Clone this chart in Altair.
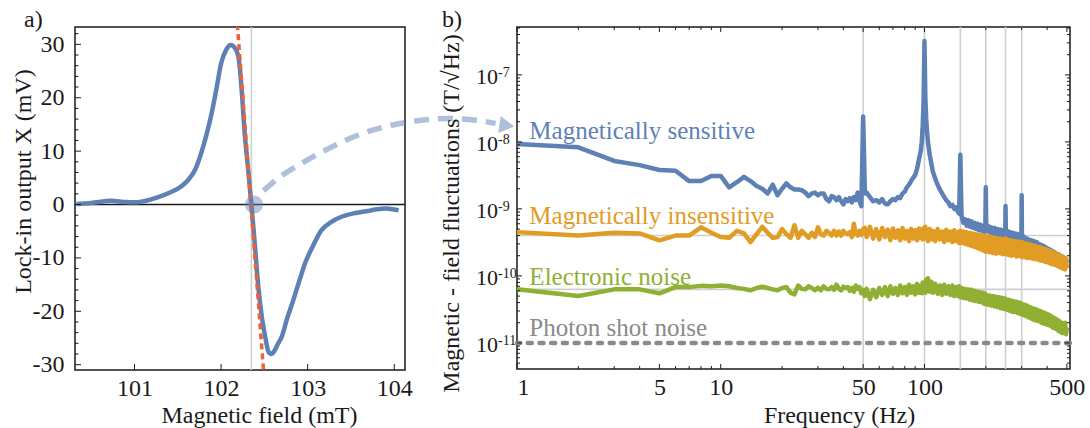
import altair as alt
import pandas as pd

FONT = "Liberation Serif"
INK = "#1a1a1a"
BLUE = "#5E81B5"
ORANGE = "#E19C24"
GREEN = "#8FB032"
RED = "#EB6235"
SHOT = "#8a8a8a"
GUIDE = "#cfcfcf"

# ---------------- panel a: lock-in output across the resonance ----------------
field_mT = [100.33, 100.5, 100.73, 100.9, 101.0, 101.2, 101.39, 101.55, 101.62, 101.7,
            101.77, 101.83, 101.89, 101.95, 102.0, 102.06, 102.11, 102.16, 102.2, 102.24,
            102.27, 102.31, 102.35, 102.39, 102.43, 102.47, 102.51, 102.545, 102.58, 102.62,
            102.66, 102.70, 102.76, 102.82, 102.9, 102.97, 103.06, 103.16, 103.27, 103.39,
            103.55, 103.7, 103.8, 103.9, 104.0, 104.05]
lockin_mV = [0.1, 0.3, 0.7, 0.45, 0.4, 1.0, 2.1, 3.5, 4.6, 6.5,
             9.6, 13.0, 17.0, 22.0, 26.4, 29.0, 29.9, 29.3, 27.7, 21.0,
             13.9, 7.0, 0.0, -7.5, -15.4, -21.0, -24.8, -27.5, -28.0, -27.3,
             -26.0, -24.8, -21.5, -18.6, -14.5, -11.0, -7.8, -4.8, -3.3, -2.3,
             -1.6, -1.2, -0.9, -0.75, -0.95, -1.1]

# linear fit through the zero crossing
fit_field_mT = [102.17, 102.52]
fit_mV = [37.5, -37.5]
resonance_mT = [102.35]
work_point_mT = [102.38]
work_point_mV = [0.0]

# dashed pointer from the working point towards panel b
arrow_field_mT = [102.49, 102.70, 102.93, 103.28, 103.63, 103.98, 104.32, 104.63, 104.94, 105.17]
arrow_mV = [2.6, 5.4, 7.7, 10.8, 13.3, 14.9, 15.8, 16.1, 15.8, 15.2]
arrow_tip_mT = [105.30]
arrow_tip_mV = [14.8]

a_x_ticks = [101, 102, 103, 104]
a_y_ticks = [-30, -20, -10, 0, 10, 20, 30]
a_y_minor = [v for v in range(-30, 33, 2) if v % 10]

# ---------------- panel b: noise spectra ----------------
freq_hz = [
    1, 2, 3, 4, 5, 6, 7, 8, 9, 10,
    11, 12, 13, 14, 15, 16, 17, 18, 19, 20,
    21, 22, 23, 24, 25, 26, 27, 28, 29, 30,
    31, 32, 33, 34, 35, 36, 37, 38, 39, 40,
    41, 42, 43, 44, 45, 46, 47, 48, 49, 50,
    51, 52, 54, 56, 58, 60, 62, 64, 66, 68,
    70, 72, 74, 76, 78, 80, 82, 84, 86, 88,
    90, 92, 94, 96, 97, 98, 99, 100, 101, 102,
    103, 104, 106, 108, 110, 113, 116, 119, 122, 125,
    128, 131, 134, 137, 140, 143, 146, 148, 150, 152,
    155, 158, 161, 164, 167, 170, 173, 176, 179, 182,
    185, 188, 191, 194, 197, 199, 200, 201, 205, 209,
    213, 217, 221, 225, 229, 233, 237, 241, 245, 249,
    250, 251, 255, 259, 263, 267, 271, 275, 279, 283,
    287, 291, 295, 299, 300, 301, 305, 310, 315, 320,
    325, 330, 335, 340, 345, 350, 355, 360, 365, 370,
    375, 380, 385, 390, 395, 400, 405, 410, 415, 420,
    425, 430, 435, 440, 445, 450, 455, 460, 465, 470,
    475, 480, 485, 490, 495, 500]

# amplitude spectral densities in pT/sqrt(Hz)
asd_sensitive_pT = [
    9300, 8300, 5200, 4500, 3800, 3700, 2600, 2600, 3100, 3100,
    2100, 2500, 3000, 2600, 2200, 2000, 1700, 2300, 1600, 2000,
    2400, 2100, 1950, 1950, 1900, 1750, 1550, 1700, 1750, 1600,
    1700, 1700, 1400, 1300, 1550, 1500, 1350, 1500, 1300, 1170,
    1400, 1300, 1450, 1250, 1500, 1350, 1750, 1300, 1100, 24000,
    1700, 1750, 1500, 1300, 1350, 1250, 1400, 1200, 1170, 1300,
    1400, 1350, 1500, 1450, 1700, 1800, 2100, 2300, 2600, 2900,
    3200, 4000, 5500, 7500, 10000, 17000, 40000, 320000, 45000, 22000,
    14000, 10000, 6500, 4800, 3600, 2800, 2300, 1950, 1700, 1500,
    1350, 1250, 1100, 1150, 1000, 1050, 900, 850, 6400, 800,
    620, 700, 560, 680, 540, 650, 520, 620, 500, 600,
    480, 580, 470, 560, 450, 540, 2100, 470, 560, 440,
    530, 420, 520, 410, 500, 400, 490, 390, 480, 380,
    1100, 400, 470, 370, 450, 360, 440, 350, 430, 340,
    420, 330, 400, 320, 1600, 330, 390, 310, 370, 300,
    350, 280, 340, 270, 330, 260, 320, 250, 300, 240,
    290, 230, 280, 220, 265, 210, 255, 200, 245, 195,
    235, 185, 225, 180, 215, 170, 210, 165, 200, 160,
    195, 155, 185, 150, 180, 160]

asd_insensitive_pT = [
    450, 400, 440, 430, 340, 400, 400, 530, 440, 380,
    370, 470, 430, 320, 420, 540, 440, 370, 380, 500,
    420, 370, 570, 370, 470, 420, 370, 440, 380, 530,
    420, 400, 470, 440, 400, 470, 400, 460, 400, 470,
    430, 420, 450, 380, 600, 420, 400, 470, 410, 500,
    520, 380, 540, 360, 500, 350, 520, 380, 490, 340,
    510, 370, 480, 340, 520, 360, 470, 330, 500, 360,
    480, 340, 510, 370, 470, 350, 520, 400, 540, 360,
    480, 330, 500, 350, 470, 330, 500, 350, 460, 320,
    490, 340, 460, 320, 480, 330, 450, 310, 470, 310,
    460, 300, 450, 290, 440, 280, 430, 270, 420, 260,
    410, 250, 400, 240, 390, 230, 400, 230, 380, 225,
    385, 220, 370, 215, 365, 220, 360, 210, 355, 215,
    360, 210, 345, 205, 340, 200, 335, 205, 330, 195,
    325, 200, 320, 195, 320, 190, 310, 190, 305, 185,
    300, 185, 290, 180, 285, 178, 275, 175, 270, 170,
    262, 168, 255, 162, 250, 160, 242, 155, 235, 150,
    228, 148, 220, 145, 212, 140, 205, 136, 198, 132,
    192, 128, 188, 125, 182, 130]

asd_electronic_pT = [
    63, 50, 63, 63, 55, 68, 68, 71, 70, 72,
    70, 66, 64, 61, 66, 69, 66, 63, 61, 66,
    68, 56, 53, 72, 64, 63, 70, 66, 61, 67,
    61, 70, 64, 63, 68, 62, 74, 64, 61, 69,
    66, 68, 60, 66, 58, 72, 64, 68, 55, 62,
    50, 64, 45, 62, 48, 66, 52, 68, 50, 70,
    54, 66, 52, 72, 55, 68, 52, 74, 56, 70,
    53, 76, 56, 72, 55, 80, 58, 74, 56, 88,
    60, 92, 58, 82, 56, 76, 54, 72, 52, 74,
    54, 70, 52, 72, 50, 68, 50, 70, 48, 66,
    47, 64, 46, 63, 44, 62, 43, 60, 42, 58,
    41, 57, 40, 56, 38, 54, 39, 52, 37, 51,
    36, 50, 35, 49, 34, 48, 33, 47, 32, 46,
    33, 45, 31, 44, 30, 43, 29, 42, 29, 41,
    28, 40, 27, 39, 27, 38, 26, 37, 25, 36,
    24, 34, 23, 33, 22, 32, 21.5, 31, 21, 30,
    20, 29, 19.5, 28, 19, 27, 18.5, 26, 18, 25,
    17, 24, 16.5, 23, 16, 22, 15, 21, 14.5, 20,
    14, 19, 14, 20, 13.5, 17]

shot_noise_pT = [10.0]
mains_harmonics_hz = [50, 100, 150, 200, 250, 300]
level_guides_pT = [400, 63]

curve_names = ["Magnetically sensitive", "Magnetically insensitive",
               "Electronic noise", "Photon shot noise"]
curve_label_hz = [1.15, 1.15, 1.15, 1.15]
curve_label_pT = [11000, 600, 74, 12.6]
curve_colors = [BLUE, ORANGE, GREEN, SHOT]

b_x_ticks = [1, 5, 10, 50, 100, 500]
decade_exponents = [-11, -10, -9, -8, -7]

PT = 1e-12  # pT -> T

# ---------------- geometry / scales ----------------
A_W, A_H = 330, 343
B_W, B_H = 553, 342
TICK, MINOR = 6, 3.5
FS = 24

A_XS = alt.Scale(domain=[100.313, 104.124], nice=False, zero=False)
A_YS = alt.Scale(domain=[-31.0, 33.25], nice=False, zero=False)
B_XS = alt.Scale(type="log", domain=[1, 518], nice=False)
B_YS = alt.Scale(type="log", domain=[4.08e-12, 5.18e-7], nice=False)

A_XAXIS = alt.Axis(values=a_x_ticks, title="Magnetic field (mT)", labelPadding=6,
                   titleX=184, titleY=52, titleBaseline="alphabetic")
A_YAXIS = alt.Axis(values=a_y_ticks, title="Lock-in output X (mV)", labelPadding=11,
                   labelExpr="replace(datum.label, '\u2212', '-')",
                   titleX=-45, titleY=154, titleBaseline="alphabetic")
B_XAXIS = alt.Axis(values=b_x_ticks, title="Frequency (Hz)", labelPadding=6,
                   labelExpr="format(datum.value, 'd')",
                   titleX=322, titleY=53, titleBaseline="alphabetic")
B_YAXIS = alt.Axis(values=[10.0 ** e for e in decade_exponents], labels=False,
                   title="Magnetic - field fluctuations (T/\u221aHz)",
                   titleX=-59, titleY=186, titleBaseline="alphabetic")


def ax(field="B"):
    return alt.X(f"{field}:Q", scale=A_XS, axis=A_XAXIS)


def ay(field="X"):
    return alt.Y(f"{field}:Q", scale=A_YS, axis=A_YAXIS)


def bx():
    return alt.X("f:Q", scale=B_XS, axis=B_XAXIS)


def by():
    return alt.Y("asd:Q", scale=B_YS, axis=B_YAXIS)


# ---------------- panel a layers ----------------
resonance_rule = alt.Chart(pd.DataFrame({"B": resonance_mT})).mark_rule(
    color=GUIDE, strokeWidth=1.6).encode(x=ax())
zero_rule = alt.Chart(pd.DataFrame({"X": [0.0]})).mark_rule(
    color=INK, strokeWidth=1.5).encode(y=ay())
signal = alt.Chart(pd.DataFrame({"B": field_mT, "X": lockin_mV})).mark_line(
    color=BLUE, strokeWidth=4.5, interpolate="monotone", strokeJoin="round").encode(x=ax(), y=ay())
fit = alt.Chart(pd.DataFrame({"B": fit_field_mT, "X": fit_mV})).mark_line(
    color=RED, strokeWidth=3.5, strokeDash=[6, 4], clip=True).encode(x=ax(), y=ay())
work_point = alt.Chart(pd.DataFrame({"B": work_point_mT, "X": work_point_mV})).mark_circle(
    color=BLUE, opacity=0.45, size=330).encode(x=ax(), y=ay())
pointer = alt.Chart(pd.DataFrame({"B": arrow_field_mT, "X": arrow_mV})).mark_line(
    color=BLUE, opacity=0.5, strokeWidth=5.5, strokeDash=[15, 9], interpolate="monotone"
).encode(x=ax(), y=ay())
pointer_head = alt.Chart(pd.DataFrame({"B": arrow_tip_mT, "X": arrow_tip_mV})).mark_point(
    shape="triangle-right", filled=True, color=BLUE, opacity=0.5, size=300, angle=8
).encode(x=ax(), y=ay())

a_ticks_left = alt.Chart(pd.DataFrame({"X": a_y_ticks})).mark_rule(color=INK, strokeWidth=1).encode(
    y=ay(), x=alt.value(0), x2=alt.value(TICK))
a_ticks_left_minor = alt.Chart(pd.DataFrame({"X": a_y_minor})).mark_rule(color=INK, strokeWidth=1).encode(
    y=ay(), x=alt.value(0), x2=alt.value(MINOR))
a_ticks_bottom = alt.Chart(pd.DataFrame({"B": a_x_ticks})).mark_rule(color=INK, strokeWidth=1).encode(
    x=ax(), y=alt.value(A_H), y2=alt.value(A_H - TICK))

panel_a = alt.layer(
    resonance_rule, zero_rule, signal, fit, work_point, pointer, pointer_head,
    a_ticks_left, a_ticks_left_minor, a_ticks_bottom,
).properties(
    width=A_W, height=A_H,
    title=alt.TitleParams("a)", anchor="start", frame="group", font=FONT, fontSize=FS,
                          fontWeight="normal", color=INK, dx=-51, dy=25, offset=0,
                          baseline="alphabetic"),
)

# ---------------- panel b layers ----------------
harmonics = alt.Chart(pd.DataFrame({"f": mains_harmonics_hz})).mark_rule(
    color=GUIDE, strokeWidth=1.6).encode(x=bx())
levels = alt.Chart(pd.DataFrame({"asd": [v * PT for v in level_guides_pT]})).mark_rule(
    color=GUIDE, strokeWidth=1.6).encode(y=by())


def spectrum(values, color):
    df = pd.DataFrame({"f": freq_hz, "asd": [v * PT for v in values]})
    return alt.Chart(df).mark_line(color=color, strokeWidth=4.5, strokeJoin="round").encode(x=bx(), y=by())


shot = alt.Chart(pd.DataFrame({"asd": [v * PT for v in shot_noise_pT]})).mark_rule(
    color=SHOT, strokeWidth=4.5, strokeDash=[4, 7.7], strokeCap="round").encode(y=by())

labels_df = pd.DataFrame({"f": curve_label_hz, "asd": [v * PT for v in curve_label_pT],
                          "name": curve_names, "c": curve_colors})
curve_labels = alt.Chart(labels_df).mark_text(
    align="left", baseline="alphabetic", font=FONT, fontSize=25).encode(
    x=bx(), y=by(), text="name:N", color=alt.Color("c:N", scale=None))

decades_df = pd.DataFrame({"asd": [10.0 ** e for e in decade_exponents],
                           "base": ["10"] * len(decade_exponents),
                           "exp": [str(e) for e in decade_exponents]})
decade_base = alt.Chart(decades_df).mark_text(
    align="right", baseline="alphabetic", font=FONT, fontSize=22, color=INK, dy=9).encode(
    y=by(), x=alt.value(-19), text="base:N")
decade_exp = alt.Chart(decades_df).mark_text(
    align="left", baseline="alphabetic", font=FONT, fontSize=14, color=INK, dy=2).encode(
    y=by(), x=alt.value(-19), text="exp:N")

b_y_major = [10.0 ** e for e in decade_exponents]
b_y_minor = [k * 10.0 ** e for e in range(-12, -6) for k in range(2, 10)
             if 4.08e-12 <= k * 10.0 ** e <= 5.18e-7]
b_x_minor = [k * 10 ** e for e in range(0, 3) for k in range(1, 10)
             if k * 10 ** e <= 500 and k * 10 ** e not in b_x_ticks]


def y_edge_ticks(values, length):
    df = pd.DataFrame({"asd": values})
    left = alt.Chart(df).mark_rule(color=INK, strokeWidth=1).encode(
        y=by(), x=alt.value(0), x2=alt.value(length))
    right = alt.Chart(df).mark_rule(color=INK, strokeWidth=1).encode(
        y=by(), x=alt.value(B_W), x2=alt.value(B_W - length))
    return [left, right]


def x_edge_ticks(values, length):
    df = pd.DataFrame({"f": values})
    bottom = alt.Chart(df).mark_rule(color=INK, strokeWidth=1).encode(
        x=bx(), y=alt.value(B_H), y2=alt.value(B_H - length))
    top = alt.Chart(df).mark_rule(color=INK, strokeWidth=1).encode(
        x=bx(), y=alt.value(0), y2=alt.value(length))
    return [bottom, top]


panel_b = alt.layer(
    harmonics, levels,
    spectrum(asd_sensitive_pT, BLUE),
    spectrum(asd_insensitive_pT, ORANGE),
    spectrum(asd_electronic_pT, GREEN),
    shot, curve_labels, decade_base, decade_exp,
    *y_edge_ticks(b_y_major, TICK - 1), *y_edge_ticks(b_y_minor, MINOR - 0.5),
    *x_edge_ticks(b_x_ticks, TICK - 1), *x_edge_ticks(b_x_minor, MINOR - 0.5),
).properties(
    width=B_W, height=B_H,
    title=alt.TitleParams("b)", anchor="start", frame="group", font=FONT, fontSize=FS,
                          fontWeight="normal", color=INK, dx=-75, dy=25, offset=0,
                          baseline="alphabetic"),
)

chart = alt.hconcat(panel_a, panel_b, spacing=112, bounds="flush").properties(
    padding={"left": 10, "top": 7, "right": 0, "bottom": 0},
    background="white",
).configure(font=FONT).configure_view(
    stroke=INK, strokeWidth=1.5
).configure_axis(
    labelFont=FONT, titleFont=FONT, labelFontSize=FS, titleFontSize=FS,
    labelColor=INK, titleColor=INK, titleFontWeight="normal",
    ticks=False, domain=False, grid=False,
)

chart.save("out.html", embed_options={"renderer": "svg", "actions": False})
